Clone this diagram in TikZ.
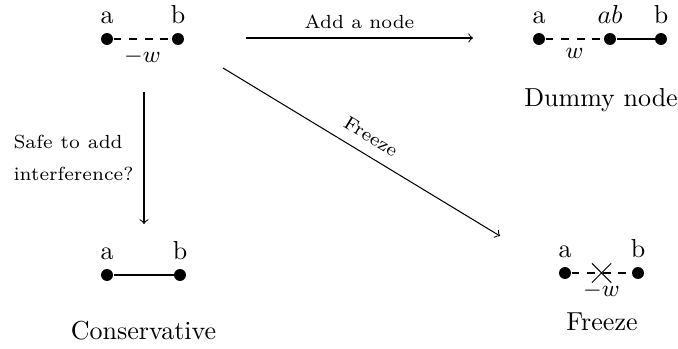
\documentclass[tikz,border=0pt]{standalone}
\usetikzlibrary{shapes.misc}
\begin{document}
\begin{tikzpicture}[x=0.3846pt,y=-0.3846pt,
  dot/.style={circle,fill,inner sep=0pt,minimum size=4.6pt},
  lab/.style={font=\normalsize},
  wlab/.style={font=\small},
  small/.style={font=\fontsize{7.3}{8.8}\selectfont},
  xmark/.style={cross out,draw,inner sep=0pt,minimum size=7pt},
  arr/.style={->}]
\useasboundingbox (0,0) rectangle (678,349);
% top left
\node[dot,label={[lab]above:a}] (a1) at (107,39) {};
\node[dot,label={[lab]above:b}] (b1) at (178,39) {};
\draw[dashed] (a1) -- node[below,wlab] (w1) {$-w$} (b1);
% top right
\node[dot,label={[lab]above:a}] (a2) at (539,39) {};
\node[dot,label={[lab]above:$ab$}] (ab2) at (610,39) {};
\node[dot,label={[lab]above:b}] (b2) at (661,39) {};
\draw[dashed] (a2) -- node[below,wlab] (w2) {$w$} (ab2);
\draw (ab2) -- (b2);
\node[lab] (t2) at (601,100) {Dummy node};
% bottom left
\node[dot,label={[lab]above:a}] (a3) at (107,275) {};
\node[dot,label={[lab]above:b}] (b3) at (180,275) {};
\draw (a3) -- (b3);
\node[lab] (t3) at (143.5,331) {Conservative};
% bottom right
\node[dot,label={[lab]above:a}] (a4) at (565,273) {};
\node[dot,label={[lab]above:b}] (b4) at (638,273) {};
\node[xmark] (x4) at (601.5,273) {};
\draw[dashed] (a4) -- node[below,wlab] (w4) {$-w$} (b4);
\node[lab] (t4) at (602,322) {Freeze};
% arrows
\coordinate (s1) at (246,38);
\coordinate (e1) at (473,38);
\draw[arr] (s1) -- node[above,small] (l1) {Add a node} (e1);
\coordinate (s2) at (223,68);
\coordinate (e2) at (500,236);
\draw[arr] (s2) -- node[above=1pt,sloped,pos=0.5,small] (l2) {Freeze} (e2);
\coordinate (s3) at (144,92);
\coordinate (e3) at (144,224);
\draw[arr] (s3) -- (e3);
\node[small,align=left,anchor=west,inner sep=0pt] (l3) at (13,157.5) {\makebox[42pt][s]{Safe to add}\\[3.5pt]interference?};
\end{tikzpicture}
\end{document}
